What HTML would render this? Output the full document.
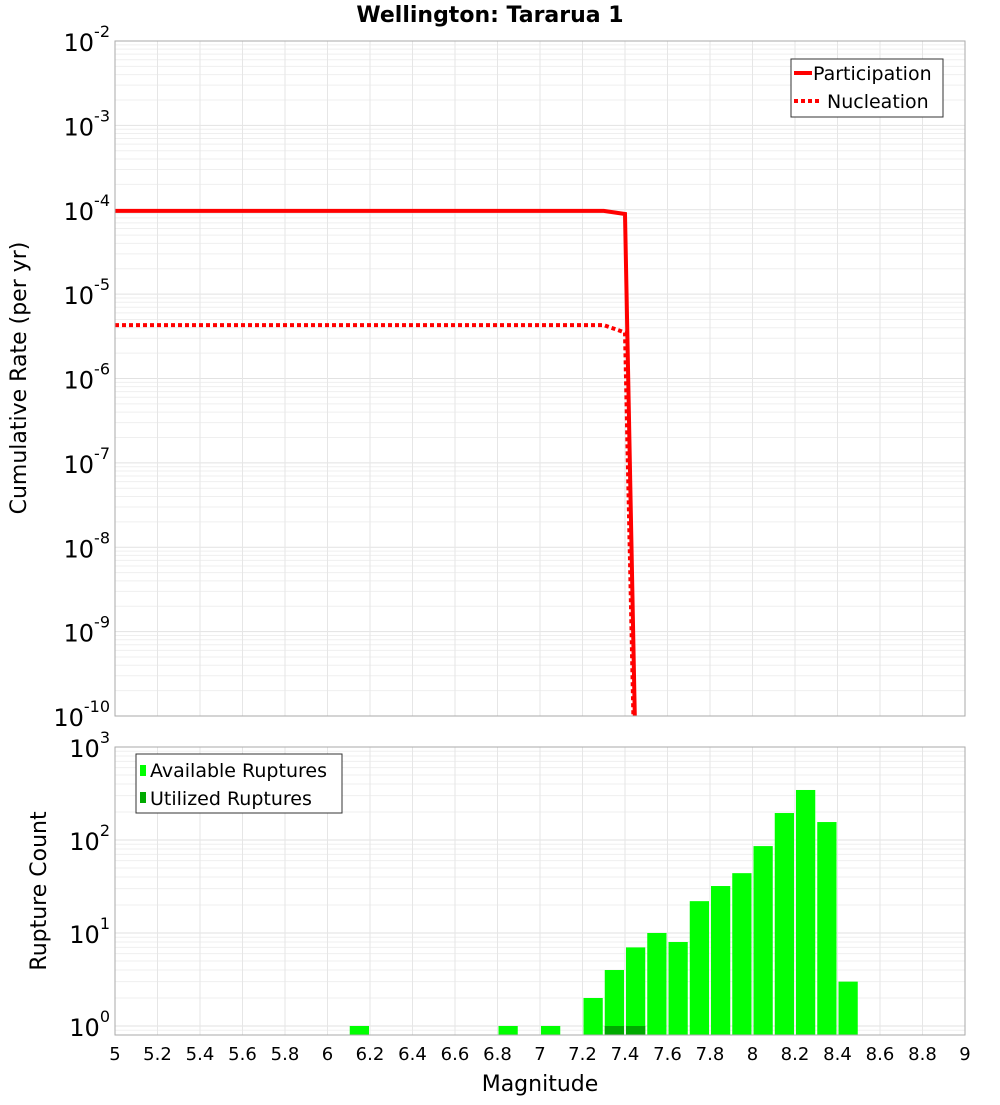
<!DOCTYPE html>
<html><head><meta charset="utf-8"><style>
body{margin:0;background:#fff;}
svg text{font-family:"DejaVu Sans","Liberation Sans",sans-serif;}
</style></head><body>
<svg id="chart" width="1000" height="1100" xmlns="http://www.w3.org/2000/svg">
<text x="490" y="22" font-size="22" font-weight="bold" text-anchor="middle">Wellington: Tararua 1</text>
<g id="topplot"></g><g id="botplot"></g>
<text x="540" y="1091" font-size="22" text-anchor="middle">Magnitude</text>
<text transform="translate(26,378) rotate(-90)" font-size="22" text-anchor="middle">Cumulative Rate (per yr)</text>
<text transform="translate(46,891) rotate(-90)" font-size="22" text-anchor="middle">Rupture Count</text>
</svg>
<script>
const partMags=[5.0,5.1,5.2,5.3,5.4,5.5,5.6,5.7,5.8,5.9,6.0,6.1,6.2,6.3,6.4,6.5,6.6,6.7,6.8,6.9,7.0,7.1,7.2,7.3,7.4,7.5];
const partVals=[9.7e-5,9.7e-5,9.7e-5,9.7e-5,9.7e-5,9.7e-5,9.7e-5,9.7e-5,9.7e-5,9.7e-5,9.7e-5,9.7e-5,9.7e-5,9.7e-5,9.7e-5,9.7e-5,9.7e-5,9.7e-5,9.7e-5,9.7e-5,9.7e-5,9.7e-5,9.7e-5,9.7e-5,8.9e-5,1e-17];
const nuclVals=[4.3e-6,4.3e-6,4.3e-6,4.3e-6,4.3e-6,4.3e-6,4.3e-6,4.3e-6,4.3e-6,4.3e-6,4.3e-6,4.3e-6,4.3e-6,4.3e-6,4.3e-6,4.3e-6,4.3e-6,4.3e-6,4.3e-6,4.3e-6,4.3e-6,4.3e-6,4.3e-6,4.3e-6,3.5e-6,1e-17];
const binMags=[6.1,6.8,7.0,7.2,7.3,7.4,7.5,7.6,7.7,7.8,7.9,8.0,8.1,8.2,8.3,8.4];
const availCounts=[1,1,1,2,4,7,10,8,22,32,44,86,195,345,156,3];
const utilMags=[7.3,7.4];
const utilCounts=[1,1];
const xTicks=[5,5.2,5.4,5.6,5.8,6,6.2,6.4,6.6,6.8,7,7.2,7.4,7.6,7.8,8,8.2,8.4,8.6,8.8,9];

const NS="http://www.w3.org/2000/svg";
const X0=115,X1=965;
const xs=m=>X0+(m-5)/4*(X1-X0);
const T0=41,T1=716; const ty=v=>T0+(-2-Math.log10(v))/8*(T1-T0);
const B0=747,B1=1035,BD=93; const by=v=>1026-Math.log10(v)*BD;
function el(tag,attrs,parent,txt){const e=document.createElementNS(NS,tag);for(const k in attrs)e.setAttribute(k,attrs[k]);if(txt!==undefined)e.textContent=txt;parent.appendChild(e);return e;}
const topG=document.getElementById('topplot'),botG=document.getElementById('botplot');

function grid(g,y0,y1,yf,dmin,dmax){
  for(let d=dmin;d<=dmax;d++)for(let k=1;k<10;k++){const y=yf(k*Math.pow(10,d));if(y<y0-0.5||y>y1+0.5)continue;
    const l=el('line',{x1:X0,x2:X1,y1:y,y2:y,stroke:k==1?'#e2e2e2':'#efefef','stroke-width':1},g);
    
    }
  xTicks.forEach(t=>{const x=xs(t);const l=el('line',{x1:x,x2:x,y1:y0,y2:y1,stroke:'#e6e6e6','stroke-width':1},g);
    
    });
}
grid(topG,T0,T1,ty,-10,-3);
grid(botG,B0,B1,by,-1,2);

for(let e=-2;e>=-10;e--){const y=ty(Math.pow(10,e));
  const t=el('text',{x:110,y:y+10,'font-size':24,'text-anchor':'end'},topG);
  
  
  el('tspan',{},t,'10');el('tspan',{dy:-14,'font-size':16},t,String(e));}
for(let e=3;e>=0;e--){const y=by(Math.pow(10,e));
  const t=el('text',{x:110,y:y+10,'font-size':24,'text-anchor':'end'},botG);
  
  
  el('tspan',{},t,'10');el('tspan',{dy:-14,'font-size':16},t,String(e));}

const defs=el('defs',{},document.getElementById('chart'));
const cp=el('clipPath',{id:'clipTop'},defs);el('rect',{x:X0,y:T0,width:X1-X0,height:T1-T0},cp);
function line(vals,dash,name){const pts=partMags.map((m,i)=>xs(m).toFixed(1)+','+ty(vals[i]).toFixed(1)).join(' ');
  const p=el('polyline',{points:pts,fill:'none',stroke:'#ff0000','stroke-width':4,'clip-path':'url(#clipTop)'},topG);
  if(dash)p.setAttribute('stroke-dasharray',dash);
  
  }
line(nuclVals,'4,3','nucleation-line');
line(partVals,null,'participation-line');
const tf=el('rect',{x:X0,y:T0,width:X1-X0,height:T1-T0,fill:'none',stroke:'#aaa'},topG);



const lg=el('g',{},topG);


el('rect',{x:791,y:59,width:152,height:58,fill:'#fff',stroke:'#333'},lg);
el('line',{x1:794,x2:812,y1:73,y2:73,stroke:'#f00','stroke-width':4},lg);
el('text',{x:813,y:80,'font-size':19},lg,'Participation');
el('line',{x1:794,x2:822,y1:101,y2:101,stroke:'#f00','stroke-width':4,'stroke-dasharray':'4,3'},lg);
el('text',{x:827,y:108,'font-size':19},lg,'Nucleation');

const bw=(X1-X0)/40;
binMags.forEach((m,i)=>{const y=by(availCounts[i]);
  const r=el('rect',{x:xs(m)+1,y:y,width:bw-2,height:B1-y,fill:'#00ff00'},botG);
  
  });
utilMags.forEach((m,i)=>{const y=by(utilCounts[i]);
  const r=el('rect',{x:xs(m)+1,y:y,width:bw-2,height:B1-y,fill:'#00aa00'},botG);
  
  });
const bf=el('rect',{x:X0,y:B0,width:X1-X0,height:B1-B0,fill:'none',stroke:'#aaa'},botG);



const lg2=el('g',{},botG);


el('rect',{x:136,y:754,width:206,height:59,fill:'#fff',stroke:'#333'},lg2);
el('rect',{x:140,y:765,width:6,height:11,fill:'#00ff00'},lg2);
el('text',{x:150,y:777,'font-size':19},lg2,'Available Ruptures');
el('rect',{x:140,y:792,width:6,height:11,fill:'#00aa00'},lg2);
el('text',{x:150,y:805,'font-size':19},lg2,'Utilized Ruptures');

xTicks.forEach(t=>{const tx=el('text',{x:xs(t),y:1060,'font-size':18,'text-anchor':'middle'},botG,String(t));
  
  });
</script>
</body></html>
